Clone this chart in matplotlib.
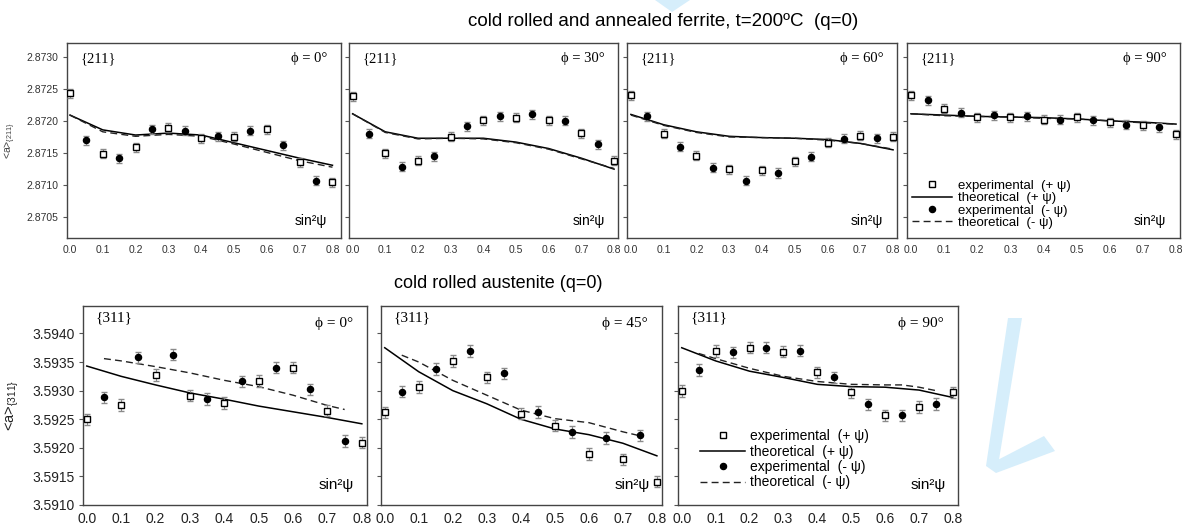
import numpy as np
import matplotlib
matplotlib.use('Agg')
import matplotlib.pyplot as plt
from matplotlib.lines import Line2D
from matplotlib.patches import Polygon

plt.rcParams['font.family'] = ['Liberation Sans', 'DejaVu Sans']
plt.rcParams['mathtext.fontset'] = 'custom'
plt.rcParams['mathtext.rm'] = 'Liberation Sans'
plt.rcParams['mathtext.it'] = 'Liberation Sans:italic'

## data
x_plus = [0.0, 0.1, 0.2, 0.3, 0.4, 0.5, 0.6, 0.7, 0.8]
x_minus = [0.05, 0.15, 0.25, 0.35, 0.45, 0.55, 0.65, 0.75]
x_theory = [0.0, 0.1, 0.2, 0.3, 0.4, 0.5, 0.6, 0.7, 0.8]
x_theory_minus_au = [0.05, 0.1, 0.2, 0.3, 0.4, 0.5, 0.6, 0.65, 0.7, 0.75]

# ferrite {211}, phi = 0, 30, 60, 90
fe_phi = ['0', '30', '60', '90']
fe_exp_plus = [
    [2.87243, 2.87149, 2.87159, 2.87189, 2.87173, 2.87175, 2.87187, 2.87136, 2.87105],
    [2.87238, 2.87150, 2.87138, 2.87175, 2.87201, 2.87205, 2.87201, 2.87181, 2.87138],
    [2.87240, 2.87180, 2.87146, 2.87125, 2.87123, 2.87137, 2.87166, 2.87177, 2.87175],
    [2.87240, 2.87219, 2.87206, 2.87206, 2.87202, 2.87206, 2.87198, 2.87193, 2.87179],
]
fe_exp_minus = [
    [2.87170, 2.87142, 2.87187, 2.87185, 2.87176, 2.87185, 2.87162, 2.87107],
    [2.87180, 2.87129, 2.87145, 2.87192, 2.87207, 2.87210, 2.87200, 2.87164],
    [2.87207, 2.87160, 2.87127, 2.87107, 2.87119, 2.87144, 2.87172, 2.87173],
    [2.87232, 2.87213, 2.87209, 2.87207, 2.87202, 2.87201, 2.87194, 2.87190],
]
fe_th_plus = [
    [2.87209, 2.87186, 2.87178, 2.87181, 2.87178, 2.87166, 2.87154, 2.87142, 2.87131],
    [2.87211, 2.87183, 2.87173, 2.87173, 2.87173, 2.87167, 2.87157, 2.87142, 2.87125],
    [2.87210, 2.87194, 2.87183, 2.87176, 2.87174, 2.87173, 2.87171, 2.87165, 2.87155],
    [2.87211, 2.87209, 2.87207, 2.87206, 2.87205, 2.87203, 2.87200, 2.87198, 2.87195],
]
fe_th_minus = [
    [2.87209, 2.87183, 2.87176, 2.87179, 2.87176, 2.87164, 2.87151, 2.87138, 2.87128],
    [2.87211, 2.87182, 2.87172, 2.87173, 2.87172, 2.87166, 2.87156, 2.87141, 2.87126],
    [2.87209, 2.87193, 2.87182, 2.87175, 2.87174, 2.87173, 2.87170, 2.87165, 2.87156],
    [2.87211, 2.87208, 2.87207, 2.87206, 2.87204, 2.87203, 2.87200, 2.87197, 2.87195],
]
fe_err = 0.00007

# austenite {311}, phi = 0, 45, 90
au_phi = ['0', '45', '90']
au_exp_plus = [
    [3.59250, 3.59275, 3.59327, 3.59291, 3.59278, 3.59317, 3.59340, 3.59265, 3.59209],
    [3.59262, 3.59306, 3.59352, 3.59323, 3.59260, 3.59239, 3.59189, 3.59180, 3.59141],
    [3.59299, 3.59369, 3.59375, 3.59368, 3.59332, 3.59297, 3.59257, 3.59271, 3.59297],
]
au_exp_minus = [
    [3.59288, 3.59358, 3.59363, 3.59285, 3.59316, 3.59340, 3.59302, 3.59212],
    [3.59298, 3.59338, 3.59369, 3.59330, 3.59263, 3.59228, 3.59217, 3.59222],
    [3.59336, 3.59367, 3.59375, 3.59370, 3.59323, 3.59276, 3.59257, 3.59277],
]
au_th_plus = [
    [3.59343, 3.59325, 3.59310, 3.59296, 3.59285, 3.59273, 3.59263, 3.59253, 3.59242],
    [3.59375, 3.59333, 3.59300, 3.59277, 3.59250, 3.59233, 3.59223, 3.59208, 3.59186],
    [3.59375, 3.59352, 3.59334, 3.59323, 3.59311, 3.59307, 3.59306, 3.59301, 3.59288],
]
au_th_minus = [
    [3.59356, 3.59352, 3.59342, 3.59331, 3.59318, 3.59307, 3.59292, 3.59283, 3.59274, 3.59267],
    [3.59362, 3.59350, 3.59318, 3.59292, 3.59266, 3.59251, 3.59244, 3.59236, 3.59228, 3.59221],
    [3.59365, 3.59356, 3.59339, 3.59325, 3.59316, 3.59311, 3.59310, 3.59310, 3.59306, 3.59300],
]
au_err = 0.0001

fe_yticks = [2.8705, 2.8710, 2.8715, 2.8720, 2.8725, 2.8730]
au_yticks = [3.5910, 3.5915, 3.5920, 3.5925, 3.5930, 3.5935, 3.5940]
xticks = [0.0, 0.1, 0.2, 0.3, 0.4, 0.5, 0.6, 0.7, 0.8]

W, H = 1183, 531
serif = ['Liberation Serif', 'DejaVu Serif']

def px_rect(x0, x1, ytop, ybot):
    return [x0 / W, 1 - ybot / H, (x1 - x0) / W, (ybot - ytop) / H]

def draw_panel(ax, xp, yp, xm, ym, xtp, ytp, xtm, ytm, err):
    """ draws experimental points with error bars and the two theoretical curves """
    ax.plot(xtp, ytp, '-', color='black', lw=1.1, zorder=2)
    ax.plot(xtm, ytm, '--', color='#222222', lw=1.0, dashes=(5, 3), zorder=2)
    ax.errorbar(xp, yp, yerr=err, fmt='none', ecolor='#8a8a8a', elinewidth=0.8, capsize=2.2, zorder=3)
    ax.errorbar(xm, ym, yerr=err, fmt='none', ecolor='#8a8a8a', elinewidth=0.8, capsize=2.2, zorder=3)
    ax.plot(xp, yp, 's', ms=4.8, mfc='white', mec='black', mew=1.0, ls='none', zorder=4)
    ax.plot(xm, ym, 'o', ms=4.4, mfc='black', mec='black', ls='none', zorder=4)
    for s in ax.spines.values():
        s.set_color('#444444')
        s.set_linewidth(1.0)

def legend_handles():
    return [Line2D([], [], marker='s', ms=4.8, mfc='white', mec='black', ls='none'),
            Line2D([], [], color='black', lw=1.1),
            Line2D([], [], marker='o', ms=4.4, mfc='black', mec='black', ls='none'),
            Line2D([], [], color='#222222', lw=1.0, ls='--', dashes=(5, 3))]

legend_labels = ['experimental  (+ ψ)', 'theoretical  (+ ψ)',
                 'experimental  (- ψ)', 'theoretical  (- ψ)']

fig = plt.figure(figsize=(W / 100, H / 100), dpi=100)

## top row: ferrite
top_x = [(67, 341), (349, 618), (627, 897), (907, 1180)]
top_xlim = [(-0.009, 0.826), (-0.011, 0.812), (-0.012, 0.812), (-0.012, 0.812)]
for i, (x0, x1) in enumerate(top_x):
    ax = fig.add_axes(px_rect(x0, x1, 43, 238))
    draw_panel(ax, x_plus, fe_exp_plus[i], x_minus, fe_exp_minus[i],
               x_theory, fe_th_plus[i], x_theory, fe_th_minus[i], fe_err)
    ax.set_xlim(*top_xlim[i])
    ax.set_ylim(2.87018, 2.87321)
    ax.set_xticks(xticks)
    ax.set_xticklabels(['%.1f' % v for v in xticks])
    ax.set_yticks(fe_yticks)
    if i == 0:
        ax.set_yticklabels(['%.4f' % v for v in fe_yticks])
        ax.set_ylabel('<a>$_{\\{211\\}}$', fontsize=7.5, color='#444444', labelpad=6)
    else:
        ax.set_yticklabels([])
    ax.tick_params(axis='x', length=0, pad=5, labelsize=7.5, labelcolor='#333333')
    ax.tick_params(axis='y', length=3, width=0.8, color='#555555', pad=3, labelsize=7.5, labelcolor='#333333')
    ax.text(0.05, 0.92, '{211}', transform=ax.transAxes, fontsize=10.5,
            family=serif, va='center', ha='left')
    ax.text(0.95, 0.92, 'ϕ = ' + fe_phi[i] + '°', transform=ax.transAxes, fontsize=10.5,
            family=serif, va='center', ha='right')
    ax.text(0.95, 0.085, 'sin²ψ', transform=ax.transAxes, fontsize=10, va='center', ha='right')
    if i == 3:
        ax.legend(legend_handles(), legend_labels, loc='lower left', bbox_to_anchor=(0.0, 0.02),
                  frameon=False, fontsize=9.5, handlelength=3.0, handletextpad=0.5,
                  labelspacing=0.0, borderpad=0.2, borderaxespad=0.2)

## bottom row: austenite
bot_x = [(83, 367), (381, 662), (678, 958)]
for i, (x0, x1) in enumerate(bot_x):
    ax = fig.add_axes(px_rect(x0, x1, 306, 505))
    draw_panel(ax, x_plus, au_exp_plus[i], x_minus, au_exp_minus[i],
               x_theory, au_th_plus[i], x_theory_minus_au, au_th_minus[i], au_err)
    ax.set_xlim(-0.011, 0.815)
    ax.set_ylim(3.5910, 3.59448)
    ax.set_xticks(xticks)
    ax.set_xticklabels(['%.1f' % v for v in xticks])
    ax.set_yticks(au_yticks)
    if i == 0:
        ax.set_yticklabels(['%.4f' % v for v in au_yticks])
        ax.set_ylabel('<a>$_{\\{311\\}}$', fontsize=10.5, color='#222222', labelpad=8)
    else:
        ax.set_yticklabels([])
    ax.tick_params(axis='x', length=0, pad=5, labelsize=10, labelcolor='#222222')
    ax.tick_params(axis='y', length=3, width=0.8, color='#555555', pad=3, labelsize=10, labelcolor='#222222')
    ax.text(0.045, 0.94, '{311}', transform=ax.transAxes, fontsize=11,
            family=serif, va='center', ha='left')
    ax.text(0.95, 0.91, 'ϕ = ' + au_phi[i] + '°', transform=ax.transAxes, fontsize=11,
            family=serif, va='center', ha='right')
    ax.text(0.955, 0.1, 'sin²ψ', transform=ax.transAxes, fontsize=11, va='center', ha='right')
    if i == 2:
        ax.legend(legend_handles(), legend_labels, loc='lower left', bbox_to_anchor=(0.06, 0.05),
                  frameon=False, fontsize=10, handlelength=3.2, handletextpad=0.4,
                  labelspacing=0.1, borderpad=0.2, borderaxespad=0.2)

## titles
fig.text(663 / W, 1 - 21 / H, 'cold rolled and annealed ferrite, t=200ºC  (q=0)',
         fontsize=13.5, ha='center', va='center')
fig.text(498 / W, 1 - 283 / H, 'cold rolled austenite (q=0)',
         fontsize=13, ha='center', va='center')

## faint watermark strokes in the background
wm = '#d6eefb'
for pts in ([(655, 0), (690, 0), (672, 12)],
            [(1008, 318), (1022, 318), (998, 466), (986, 466)],
            [(986, 466), (1044, 436), (1055, 451), (996, 473)]):
    fig.patches.append(Polygon([(x / W, 1 - y / H) for x, y in pts], closed=True,
                               transform=fig.transFigure, facecolor=wm, edgecolor='none', zorder=-5))

fig.savefig('out.png', dpi=100)
